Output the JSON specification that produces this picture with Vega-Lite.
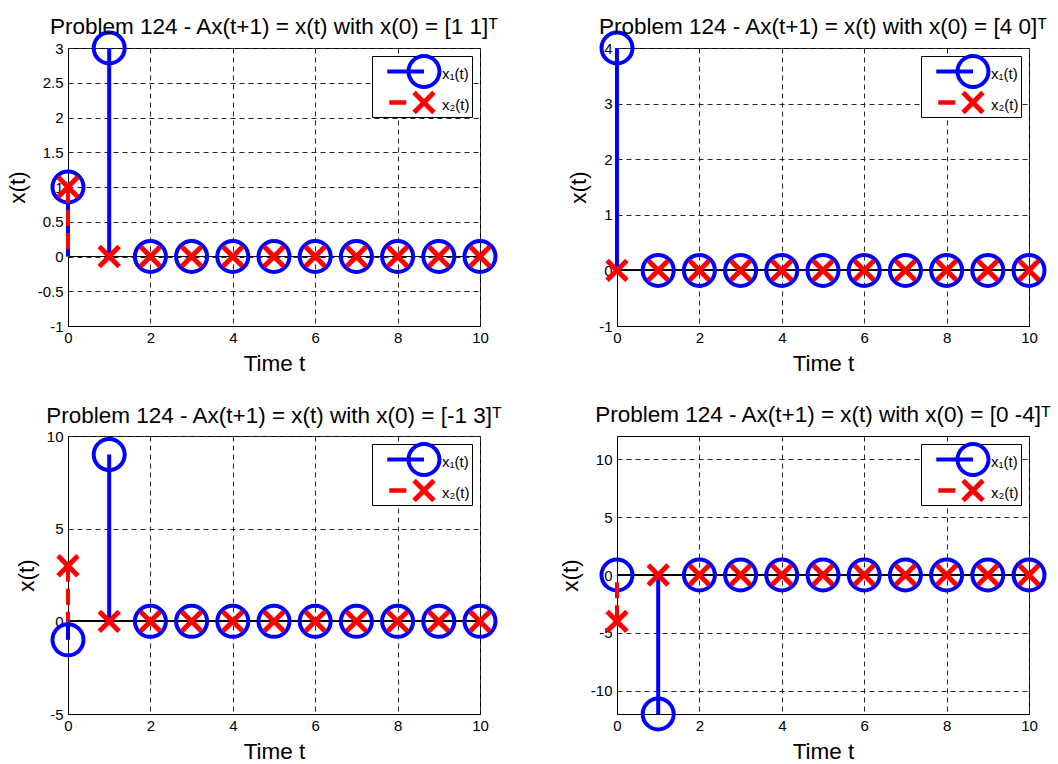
{
  "$schema": "https://vega.github.io/schema/vega-lite/v6.json",
  "background": "white",
  "padding": {"left": 5, "top": 15, "right": 5, "bottom": 5},
  "autosize": {"type": "pad"},
  "datasets": {
    "stem": [
      {"p":1,"t":0,"s":"x1","v":1},{"p":1,"t":1,"s":"x1","v":3},{"p":1,"t":2,"s":"x1","v":0},{"p":1,"t":3,"s":"x1","v":0},{"p":1,"t":4,"s":"x1","v":0},{"p":1,"t":5,"s":"x1","v":0},{"p":1,"t":6,"s":"x1","v":0},{"p":1,"t":7,"s":"x1","v":0},{"p":1,"t":8,"s":"x1","v":0},{"p":1,"t":9,"s":"x1","v":0},{"p":1,"t":10,"s":"x1","v":0},
      {"p":1,"t":0,"s":"x2","v":1},{"p":1,"t":1,"s":"x2","v":0},{"p":1,"t":2,"s":"x2","v":0},{"p":1,"t":3,"s":"x2","v":0},{"p":1,"t":4,"s":"x2","v":0},{"p":1,"t":5,"s":"x2","v":0},{"p":1,"t":6,"s":"x2","v":0},{"p":1,"t":7,"s":"x2","v":0},{"p":1,"t":8,"s":"x2","v":0},{"p":1,"t":9,"s":"x2","v":0},{"p":1,"t":10,"s":"x2","v":0},
      {"p":2,"t":0,"s":"x1","v":4},{"p":2,"t":1,"s":"x1","v":0},{"p":2,"t":2,"s":"x1","v":0},{"p":2,"t":3,"s":"x1","v":0},{"p":2,"t":4,"s":"x1","v":0},{"p":2,"t":5,"s":"x1","v":0},{"p":2,"t":6,"s":"x1","v":0},{"p":2,"t":7,"s":"x1","v":0},{"p":2,"t":8,"s":"x1","v":0},{"p":2,"t":9,"s":"x1","v":0},{"p":2,"t":10,"s":"x1","v":0},
      {"p":2,"t":0,"s":"x2","v":0},{"p":2,"t":1,"s":"x2","v":0},{"p":2,"t":2,"s":"x2","v":0},{"p":2,"t":3,"s":"x2","v":0},{"p":2,"t":4,"s":"x2","v":0},{"p":2,"t":5,"s":"x2","v":0},{"p":2,"t":6,"s":"x2","v":0},{"p":2,"t":7,"s":"x2","v":0},{"p":2,"t":8,"s":"x2","v":0},{"p":2,"t":9,"s":"x2","v":0},{"p":2,"t":10,"s":"x2","v":0},
      {"p":3,"t":0,"s":"x1","v":-1},{"p":3,"t":1,"s":"x1","v":9},{"p":3,"t":2,"s":"x1","v":0},{"p":3,"t":3,"s":"x1","v":0},{"p":3,"t":4,"s":"x1","v":0},{"p":3,"t":5,"s":"x1","v":0},{"p":3,"t":6,"s":"x1","v":0},{"p":3,"t":7,"s":"x1","v":0},{"p":3,"t":8,"s":"x1","v":0},{"p":3,"t":9,"s":"x1","v":0},{"p":3,"t":10,"s":"x1","v":0},
      {"p":3,"t":0,"s":"x2","v":3},{"p":3,"t":1,"s":"x2","v":0},{"p":3,"t":2,"s":"x2","v":0},{"p":3,"t":3,"s":"x2","v":0},{"p":3,"t":4,"s":"x2","v":0},{"p":3,"t":5,"s":"x2","v":0},{"p":3,"t":6,"s":"x2","v":0},{"p":3,"t":7,"s":"x2","v":0},{"p":3,"t":8,"s":"x2","v":0},{"p":3,"t":9,"s":"x2","v":0},{"p":3,"t":10,"s":"x2","v":0},
      {"p":4,"t":0,"s":"x1","v":0},{"p":4,"t":1,"s":"x1","v":-12},{"p":4,"t":2,"s":"x1","v":0},{"p":4,"t":3,"s":"x1","v":0},{"p":4,"t":4,"s":"x1","v":0},{"p":4,"t":5,"s":"x1","v":0},{"p":4,"t":6,"s":"x1","v":0},{"p":4,"t":7,"s":"x1","v":0},{"p":4,"t":8,"s":"x1","v":0},{"p":4,"t":9,"s":"x1","v":0},{"p":4,"t":10,"s":"x1","v":0},
      {"p":4,"t":0,"s":"x2","v":-4},{"p":4,"t":1,"s":"x2","v":0},{"p":4,"t":2,"s":"x2","v":0},{"p":4,"t":3,"s":"x2","v":0},{"p":4,"t":4,"s":"x2","v":0},{"p":4,"t":5,"s":"x2","v":0},{"p":4,"t":6,"s":"x2","v":0},{"p":4,"t":7,"s":"x2","v":0},{"p":4,"t":8,"s":"x2","v":0},{"p":4,"t":9,"s":"x2","v":0},{"p":4,"t":10,"s":"x2","v":0}
    ]
  },
  "columns": 2,
  "spacing": {"row": 110, "column": 137},
  "bounds": "flush",
  "resolve": {"scale": {"fill": "independent", "shape": "independent"}, "legend": {"fill": "independent", "shape": "independent"}},
  "concat": [
    {
      "title": {"text": "Problem 124 - Ax(t+1) = x(t) with x(0) = [1 1]ᵀ", "offset": -13.5},
      "width": 412, "height": 278,
      "data": {"name": "stem"},
      "transform": [{"filter": "datum.p == 1"}],
      "encoding": {
        "x": {"field": "t", "type": "quantitative", "title": "Time t", "scale": {"domain": [0, 10], "nice": false, "zero": false}, "axis": {"values": [0,2,4,6,8,10], "labelExpr": "'' + datum.value"}},
        "y": {"field": "v", "type": "quantitative", "title": "x(t)", "scale": {"domain": [-1, 3], "nice": false, "zero": false}, "axis": {"values": [-1,-0.5,0,0.5,1,1.5,2,2.5,3], "labelExpr": "'' + datum.value"}}
      },
      "layer": [
        {"mark": {"type": "rule", "color": "black", "strokeWidth": 1}, "encoding": {"x": {"datum": 0, "title": "Time t"}, "x2": {"datum": 10}, "y": {"datum": 0, "title": "x(t)"}}},
        {"transform": [{"filter": "datum.s == 'x1'"}], "mark": {"type": "rule", "color": "#0000ff", "strokeWidth": 4}, "encoding": {"y2": {"datum": 0}}},
        {"transform": [{"filter": "datum.s == 'x1'"}], "mark": {"type": "point", "shape": "circle", "size": 961, "strokeWidth": 4, "filled": false, "opacity": 1, "color": "#0000ff"}},
        {"transform": [{"filter": "datum.s == 'x2'"}], "mark": {"type": "rule", "color": "#ff0000", "strokeWidth": 4, "strokeDash": [16, 7]}, "encoding": {"y2": {"datum": 0}}},
        {"transform": [{"filter": "datum.s == 'x2'"}], "mark": {"type": "point", "shape": "M-0.64,-0.64L0.64,0.64M-0.64,0.64L0.64,-0.64", "size": 961, "strokeWidth": 5, "filled": false, "opacity": 1, "color": "#ff0000"}},
        {"transform": [{"filter": "false"}], "mark": {"type": "point", "size": 961, "strokeWidth": 0, "filled": true, "opacity": 1},
         "encoding": {
           "fill": {"field": "s", "type": "nominal", "scale": {"domain": ["x1", "x2"], "range": ["#0000ff", "#ff0000"]}, "legend": {"title": null, "labelExpr": "datum.value == 'x1' ? 'x₁(t)' : 'x₂(t)'"}},
           "shape": {"field": "s", "type": "nominal", "scale": {"domain": ["x1", "x2"], "range": ["M-2.37,-0.258L0,-0.258L0,0L-2.37,0Z M1.129,-0.129A1.129,1.129,0,1,1,-1.129,-0.129A1.129,1.129,0,1,1,1.129,-0.129Z M0.871,-0.129A0.871,0.871,0,1,0,-0.871,-0.129A0.871,0.871,0,1,0,0.871,-0.129Z", "M-2.24,-0.274L-1.14,-0.274L-1.14,0.016L-2.24,0.016Z M-0.526,-0.883L0.754,0.397L0.526,0.625L-0.754,-0.655Z M-0.526,0.625L-0.754,0.397L0.526,-0.883L0.754,-0.655Z"]}, "legend": {"title": null, "labelExpr": "datum.value == 'x1' ? 'x₁(t)' : 'x₂(t)'"}}
         }}
      ]
    },
    {
      "title": {"text": "Problem 124 - Ax(t+1) = x(t) with x(0) = [4 0]ᵀ", "offset": -13.5},
      "width": 412, "height": 278,
      "data": {"name": "stem"},
      "transform": [{"filter": "datum.p == 2"}],
      "encoding": {
        "x": {"field": "t", "type": "quantitative", "title": "Time t", "scale": {"domain": [0, 10], "nice": false, "zero": false}, "axis": {"values": [0,2,4,6,8,10], "labelExpr": "'' + datum.value"}},
        "y": {"field": "v", "type": "quantitative", "title": "x(t)", "scale": {"domain": [-1, 4], "nice": false, "zero": false}, "axis": {"values": [-1,0,1,2,3,4], "labelExpr": "'' + datum.value"}}
      },
      "layer": [
        {"mark": {"type": "rule", "color": "black", "strokeWidth": 1}, "encoding": {"x": {"datum": 0, "title": "Time t"}, "x2": {"datum": 10}, "y": {"datum": 0, "title": "x(t)"}}},
        {"transform": [{"filter": "datum.s == 'x1'"}], "mark": {"type": "rule", "color": "#0000ff", "strokeWidth": 4}, "encoding": {"y2": {"datum": 0}}},
        {"transform": [{"filter": "datum.s == 'x1'"}], "mark": {"type": "point", "shape": "circle", "size": 961, "strokeWidth": 4, "filled": false, "opacity": 1, "color": "#0000ff"}},
        {"transform": [{"filter": "datum.s == 'x2'"}], "mark": {"type": "rule", "color": "#ff0000", "strokeWidth": 4, "strokeDash": [16, 7]}, "encoding": {"y2": {"datum": 0}}},
        {"transform": [{"filter": "datum.s == 'x2'"}], "mark": {"type": "point", "shape": "M-0.64,-0.64L0.64,0.64M-0.64,0.64L0.64,-0.64", "size": 961, "strokeWidth": 5, "filled": false, "opacity": 1, "color": "#ff0000"}},
        {"transform": [{"filter": "false"}], "mark": {"type": "point", "size": 961, "strokeWidth": 0, "filled": true, "opacity": 1},
         "encoding": {
           "fill": {"field": "s", "type": "nominal", "scale": {"domain": ["x1", "x2"], "range": ["#0000ff", "#ff0000"]}, "legend": {"title": null, "labelExpr": "datum.value == 'x1' ? 'x₁(t)' : 'x₂(t)'"}},
           "shape": {"field": "s", "type": "nominal", "scale": {"domain": ["x1", "x2"], "range": ["M-2.37,-0.258L0,-0.258L0,0L-2.37,0Z M1.129,-0.129A1.129,1.129,0,1,1,-1.129,-0.129A1.129,1.129,0,1,1,1.129,-0.129Z M0.871,-0.129A0.871,0.871,0,1,0,-0.871,-0.129A0.871,0.871,0,1,0,0.871,-0.129Z", "M-2.24,-0.274L-1.14,-0.274L-1.14,0.016L-2.24,0.016Z M-0.526,-0.883L0.754,0.397L0.526,0.625L-0.754,-0.655Z M-0.526,0.625L-0.754,0.397L0.526,-0.883L0.754,-0.655Z"]}, "legend": {"title": null, "labelExpr": "datum.value == 'x1' ? 'x₁(t)' : 'x₂(t)'"}}
         }}
      ]
    },
    {
      "title": {"text": "Problem 124 - Ax(t+1) = x(t) with x(0) = [-1 3]ᵀ", "offset": 2},
      "width": 412, "height": 278,
      "data": {"name": "stem"},
      "transform": [{"filter": "datum.p == 3"}],
      "encoding": {
        "x": {"field": "t", "type": "quantitative", "title": "Time t", "scale": {"domain": [0, 10], "nice": false, "zero": false}, "axis": {"values": [0,2,4,6,8,10], "labelExpr": "'' + datum.value"}},
        "y": {"field": "v", "type": "quantitative", "title": "x(t)", "scale": {"domain": [-5, 10], "nice": false, "zero": false}, "axis": {"values": [-5,0,5,10], "labelExpr": "'' + datum.value"}}
      },
      "layer": [
        {"mark": {"type": "rule", "color": "black", "strokeWidth": 1}, "encoding": {"x": {"datum": 0, "title": "Time t"}, "x2": {"datum": 10}, "y": {"datum": 0, "title": "x(t)"}}},
        {"transform": [{"filter": "datum.s == 'x1'"}], "mark": {"type": "rule", "color": "#0000ff", "strokeWidth": 4}, "encoding": {"y2": {"datum": 0}}},
        {"transform": [{"filter": "datum.s == 'x1'"}], "mark": {"type": "point", "shape": "circle", "size": 961, "strokeWidth": 4, "filled": false, "opacity": 1, "color": "#0000ff"}},
        {"transform": [{"filter": "datum.s == 'x2'"}], "mark": {"type": "rule", "color": "#ff0000", "strokeWidth": 4, "strokeDash": [16, 7]}, "encoding": {"y2": {"datum": 0}}},
        {"transform": [{"filter": "datum.s == 'x2'"}], "mark": {"type": "point", "shape": "M-0.64,-0.64L0.64,0.64M-0.64,0.64L0.64,-0.64", "size": 961, "strokeWidth": 5, "filled": false, "opacity": 1, "color": "#ff0000"}},
        {"transform": [{"filter": "false"}], "mark": {"type": "point", "size": 961, "strokeWidth": 0, "filled": true, "opacity": 1},
         "encoding": {
           "fill": {"field": "s", "type": "nominal", "scale": {"domain": ["x1", "x2"], "range": ["#0000ff", "#ff0000"]}, "legend": {"title": null, "labelExpr": "datum.value == 'x1' ? 'x₁(t)' : 'x₂(t)'"}},
           "shape": {"field": "s", "type": "nominal", "scale": {"domain": ["x1", "x2"], "range": ["M-2.37,-0.258L0,-0.258L0,0L-2.37,0Z M1.129,-0.129A1.129,1.129,0,1,1,-1.129,-0.129A1.129,1.129,0,1,1,1.129,-0.129Z M0.871,-0.129A0.871,0.871,0,1,0,-0.871,-0.129A0.871,0.871,0,1,0,0.871,-0.129Z", "M-2.24,-0.274L-1.14,-0.274L-1.14,0.016L-2.24,0.016Z M-0.526,-0.883L0.754,0.397L0.526,0.625L-0.754,-0.655Z M-0.526,0.625L-0.754,0.397L0.526,-0.883L0.754,-0.655Z"]}, "legend": {"title": null, "labelExpr": "datum.value == 'x1' ? 'x₁(t)' : 'x₂(t)'"}}
         }}
      ]
    },
    {
      "title": {"text": "Problem 124 - Ax(t+1) = x(t) with x(0) = [0 -4]ᵀ", "offset": 10},
      "width": 412, "height": 278,
      "data": {"name": "stem"},
      "transform": [{"filter": "datum.p == 4"}],
      "encoding": {
        "x": {"field": "t", "type": "quantitative", "title": "Time t", "scale": {"domain": [0, 10], "nice": false, "zero": false}, "axis": {"values": [0,2,4,6,8,10], "labelExpr": "'' + datum.value"}},
        "y": {"field": "v", "type": "quantitative", "title": "x(t)", "scale": {"domain": [-12, 12], "nice": false, "zero": false}, "axis": {"values": [-10,-5,0,5,10], "labelExpr": "'' + datum.value"}}
      },
      "layer": [
        {"mark": {"type": "rule", "color": "black", "strokeWidth": 1}, "encoding": {"x": {"datum": 0, "title": "Time t"}, "x2": {"datum": 10}, "y": {"datum": 0, "title": "x(t)"}}},
        {"transform": [{"filter": "datum.s == 'x1'"}], "mark": {"type": "rule", "color": "#0000ff", "strokeWidth": 4}, "encoding": {"y2": {"datum": 0}}},
        {"transform": [{"filter": "datum.s == 'x1'"}], "mark": {"type": "point", "shape": "circle", "size": 961, "strokeWidth": 4, "filled": false, "opacity": 1, "color": "#0000ff"}},
        {"transform": [{"filter": "datum.s == 'x2'"}], "mark": {"type": "rule", "color": "#ff0000", "strokeWidth": 4, "strokeDash": [16, 7]}, "encoding": {"y2": {"datum": 0}}},
        {"transform": [{"filter": "datum.s == 'x2'"}], "mark": {"type": "point", "shape": "M-0.64,-0.64L0.64,0.64M-0.64,0.64L0.64,-0.64", "size": 961, "strokeWidth": 5, "filled": false, "opacity": 1, "color": "#ff0000"}},
        {"transform": [{"filter": "false"}], "mark": {"type": "point", "size": 961, "strokeWidth": 0, "filled": true, "opacity": 1},
         "encoding": {
           "fill": {"field": "s", "type": "nominal", "scale": {"domain": ["x1", "x2"], "range": ["#0000ff", "#ff0000"]}, "legend": {"title": null, "labelExpr": "datum.value == 'x1' ? 'x₁(t)' : 'x₂(t)'"}},
           "shape": {"field": "s", "type": "nominal", "scale": {"domain": ["x1", "x2"], "range": ["M-2.37,-0.258L0,-0.258L0,0L-2.37,0Z M1.129,-0.129A1.129,1.129,0,1,1,-1.129,-0.129A1.129,1.129,0,1,1,1.129,-0.129Z M0.871,-0.129A0.871,0.871,0,1,0,-0.871,-0.129A0.871,0.871,0,1,0,0.871,-0.129Z", "M-2.24,-0.274L-1.14,-0.274L-1.14,0.016L-2.24,0.016Z M-0.526,-0.883L0.754,0.397L0.526,0.625L-0.754,-0.655Z M-0.526,0.625L-0.754,0.397L0.526,-0.883L0.754,-0.655Z"]}, "legend": {"title": null, "labelExpr": "datum.value == 'x1' ? 'x₁(t)' : 'x₂(t)'"}}
         }}
      ]
    }
  ],
  "config": {
    "font": "Liberation Sans, DejaVu Sans, sans-serif",
    "view": {"stroke": "black", "strokeWidth": 1},
    "title": {"fontSize": 22.5, "fontWeight": "normal", "color": "black", "frame": "group", "anchor": "middle"},
    "axis": {
      "labelFontSize": 15, "labelColor": "black", "labelFlush": false, "labelOverlap": false, "labelPadding": 6,
      "titleFontSize": 22.5, "titleFontWeight": "normal", "titleColor": "black", "titlePadding": 8,
      "domainColor": "black", "domainWidth": 1, "ticks": false,
      "grid": true, "gridColor": "#262626", "gridDash": [5, 4], "gridWidth": 1, "gridOpacity": 1
    },
    "axisX": {"titlePadding": 7, "labelPadding": 4},
    "axisY": {"labelPadding": 5},
    "legend": {
      "orient": "top-right", "offset": 8, "padding": 2, "rowPadding": -30,
      "symbolSize": 961, "symbolStrokeWidth": 0, "symbolOffset": 34.5, "labelOffset": 2.5, "symbolOpacity": 1,
      "strokeColor": "black", "fillColor": "white", "cornerRadius": 0,
      "labelFontSize": 15, "labelColor": "black", "labelBaseline": "middle"
    }
  }
}
